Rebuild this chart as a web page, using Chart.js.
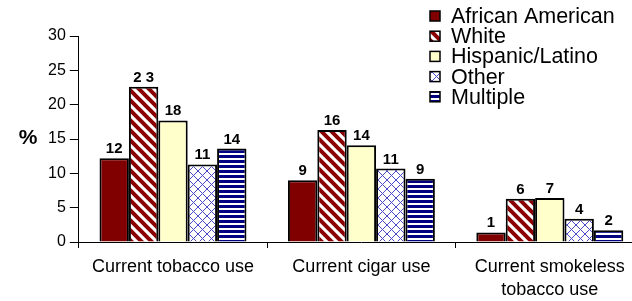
<!DOCTYPE html>
<html>
<head>
<meta charset="utf-8">
<script src="https://cdn.jsdelivr.net/npm/chart.js@4/dist/chart.umd.min.js"></script>
<style>
  html, body { margin: 0; padding: 0; background: #fff; overflow: hidden; }
  #wrap { width: 646px; height: 301px; }
</style>
</head>
<body>
<div id="wrap"><canvas id="tobaccoChart"></canvas></div>
<script>
// categories and values
var categories = ['Current tobacco use', 'Current cigar use', ['Current smokeless', 'tobacco use']];
var groups = ['African American', 'White', 'Hispanic/Latino', 'Other', 'Multiple'];

var africanAmerican = [12.2, 9.0, 1.4];
var white = [22.6, 16.3, 6.3];
var hispanic = [17.7, 14.1, 6.4];
var other = [11.3, 10.7, 3.4];
var multiple = [13.6, 9.2, 1.7];

var africanAmericanLabels = ['12', '9', '1'];
var whiteLabels = ['2 3', '16', '6'];
var hispanicLabels = ['18', '14', '7'];
var otherLabels = ['11', '11', '4'];
var multipleLabels = ['14', '9', '2'];

var yTicks = [0, 5, 10, 15, 20, 25, 30];

var FONT = '"Liberation Sans", Arial, sans-serif';

function tile(w, h, draw) {
  var c = document.createElement('canvas');
  c.width = w; c.height = h;
  var g = c.getContext('2d');
  g.fillStyle = '#fff';
  g.fillRect(0, 0, w, h);
  draw(g);
  return document.createElement('canvas').getContext('2d').createPattern(c, 'repeat');
}

var diagStripes = tile(10, 10, g => {
  g.strokeStyle = '#8b0000';
  g.lineWidth = 4;
  g.beginPath();
  g.moveTo(-2, -2); g.lineTo(12, 12);
  g.moveTo(-2, 8); g.lineTo(2, 12);
  g.moveTo(8, -2); g.lineTo(12, 2);
  g.stroke();
});

var crossHatch = tile(9, 9, g => {
  g.strokeStyle = '#4a4ac8';
  g.lineWidth = 1;
  g.beginPath();
  g.moveTo(0, 0); g.lineTo(9, 9);
  g.moveTo(9, 0); g.lineTo(0, 9);
  g.stroke();
});

var hStripes = tile(5, 5, g => {
  g.fillStyle = '#000080';
  g.fillRect(0, 0, 5, 3);
});

var fills = ['#800000', diagStripes, '#ffffcc', crossHatch, hStripes];
var seriesValues = [africanAmerican, white, hispanic, other, multiple];
var seriesLabels = [africanAmericanLabels, whiteLabels, hispanicLabels, otherLabels, multipleLabels];

var datasets = groups.map((name, i) => ({
  label: name,
  data: seriesValues[i],
  valueLabels: seriesLabels[i],
  backgroundColor: fills[i],
  borderColor: '#000',
  borderWidth: 2,
  categoryPercentage: 0.78,
  barPercentage: 1.0
}));

// numbers over bars, "%" title and the legend box at top right
var extras = {
  id: 'extras',
  afterDatasetsDraw(chart) {
    var ctx = chart.ctx;
    ctx.save();
    ctx.fillStyle = '#000';
    ctx.font = 'bold 15px ' + FONT;
    ctx.textAlign = 'center';
    ctx.textBaseline = 'alphabetic';
    chart.data.datasets.forEach((ds, i) => {
      chart.getDatasetMeta(i).data.forEach((bar, j) => {
        ctx.fillText(ds.valueLabels[j], bar.x, bar.y - 5);
      });
    });

    ctx.font = 'bold 21px ' + FONT;
    ctx.textBaseline = 'middle';
    ctx.fillText('%', 28, 138);

    ctx.font = '21.5px ' + FONT;
    ctx.textAlign = 'left';
    chart.data.datasets.forEach((ds, i) => {
      var y = 16 + i * 20.2;
      ctx.fillStyle = ds.backgroundColor;
      ctx.fillRect(430, y - 5, 10, 10);
      ctx.strokeStyle = '#000';
      ctx.lineWidth = 1.5;
      ctx.strokeRect(430, y - 5, 10, 10);
      ctx.fillStyle = '#000';
      ctx.fillText(ds.label, 451, y + 1);
    });
    ctx.restore();
  }
};

new Chart(document.getElementById('tobaccoChart'), {
  type: 'bar',
  data: { labels: categories, datasets: datasets },
  plugins: [extras],
  options: {
    responsive: true,
    maintainAspectRatio: false,
    animation: false,
    layout: { padding: { left: 44, top: 36, right: 2, bottom: -8 } },
    plugins: { legend: { display: false }, tooltip: { enabled: false } },
    scales: {
      x: {
        border: { color: '#000', width: 1 },
        grid: { display: true, offset: true, drawOnChartArea: false, drawTicks: true, tickLength: 6, color: '#000' },
        ticks: { color: '#000', font: { family: FONT, size: 18, lineHeight: 1.25 }, padding: 8, maxRotation: 0 }
      },
      y: {
        min: 0, max: 30,
        afterBuildTicks(scale) { scale.ticks = yTicks.map(v => ({ value: v })); },
        border: { color: '#000', width: 1 },
        grid: { drawOnChartArea: false, drawTicks: true, tickLength: 9, color: '#000' },
        ticks: { color: '#000', font: { family: FONT, size: 16 }, padding: 4 }
      }
    }
  }
});
</script>
</body>
</html>
